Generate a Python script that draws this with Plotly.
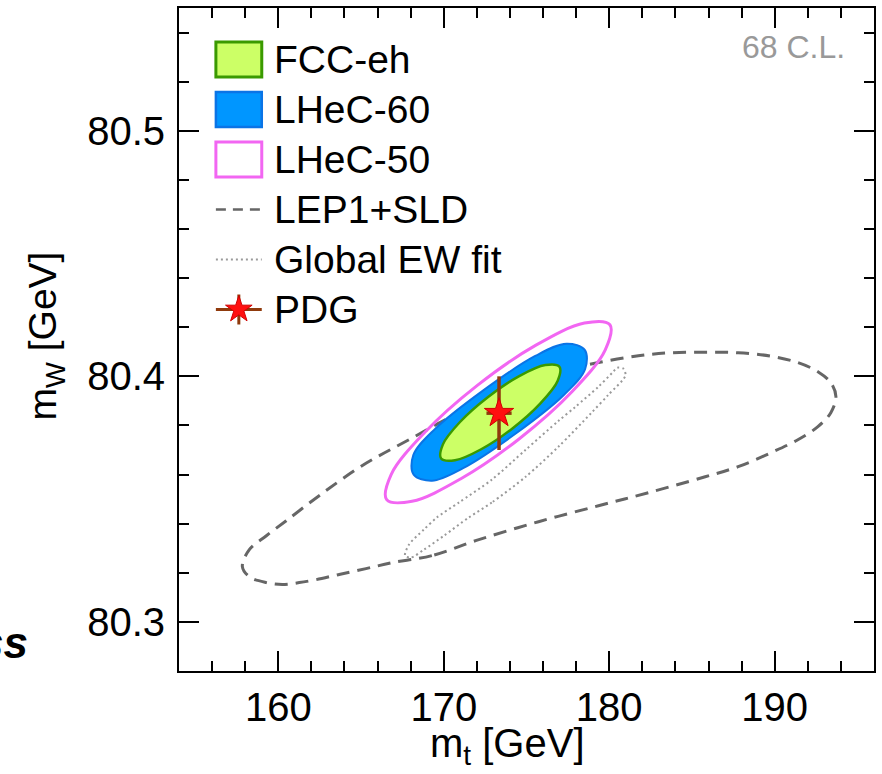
import plotly.graph_objects as go

# ---- contour data (m_t [GeV], m_W [GeV]) ----
fcc_mt = [174.15, 172.26, 170.68, 169.84, 169.95, 170.98, 172.68, 174.56, 176.14, 176.99, 176.88, 175.84]
fcc_mw = [80.3788, 80.3703, 80.3658, 80.3665, 80.3723, 80.3814, 80.3916, 80.4001, 80.4046, 80.4039, 80.3981, 80.3890]

lhec60_mt = [174.31, 171.17, 169.29, 168.18, 168.16, 169.46, 172.39, 175.53, 177.42, 178.52, 178.54, 177.24]
lhec60_mw = [80.3765, 80.3626, 80.3575, 80.3600, 80.3679, 80.3785, 80.3943, 80.4083, 80.4133, 80.4108, 80.4029, 80.3923]

lhec50_mt = [174.55, 171.01, 168.08, 166.55, 166.82, 168.83, 172.03, 175.57, 178.50, 180.04, 179.76, 177.76]
lhec50_mw = [80.3745, 80.3582, 80.3491, 80.3498, 80.3600, 80.3770, 80.3963, 80.4127, 80.4217, 80.4210, 80.4108, 80.3938]

lep_mt = [172.12, 169.28, 166.87, 165.30, 163.68, 162.29, 161.27, 160.24, 159.28, 158.25, 157.83,
          158.25, 159.28, 160.48, 162.47, 165.06, 167.90, 171.51, 174.53, 176.94, 179.35, 181.76,
          183.75, 185.80, 187.79, 189.78, 191.40, 192.61, 193.39, 193.70, 193.39, 192.61, 191.40,
          189.78, 187.79, 185.80, 182.36, 179.35, 175.73]
lep_mw = [80.3335, 80.3270, 80.3241, 80.3217, 80.3193, 80.3172, 80.3160, 80.3152, 80.3160, 80.3184, 80.3225,
          80.3294, 80.3351, 80.3412, 80.3514, 80.3636, 80.3742, 80.3872, 80.3954, 80.4019, 80.4056, 80.4084,
          80.4096, 80.4098, 80.4096, 80.4082, 80.4056, 80.4019, 80.3974, 80.3917, 80.3852, 80.3795, 80.3742,
          80.3689, 80.3632, 80.3591, 80.3526, 80.3473, 80.3408]

ew_mt = [174.95, 172.90, 171.51, 170.01, 168.80, 168.02, 167.66, 167.90, 168.80, 169.58, 170.91, 172.90,
         174.95, 176.94, 177.96, 179.35, 180.19, 180.49, 180.86, 180.98, 179.95, 178.93, 176.94]
ew_mw = [80.3591, 80.3486, 80.3425, 80.3351, 80.3294, 80.3262, 80.3270, 80.3315, 80.3376, 80.3425, 80.3486, 80.3579,
         80.3701, 80.3819, 80.3876, 80.3958, 80.4015, 80.4035, 80.4031, 80.4003, 80.3925, 80.3852, 80.3714]

# PDG world average
pdg_mt, pdg_mt_err = 173.34, 0.76
pdg_mw, pdg_mw_err = 80.385, 0.015

legend_labels = ["FCC-eh", "LHeC-60", "LHeC-50", "LEP1+SLD", "Global EW fit", "PDG"]
x_ticks = [160, 170, 180, 190]
y_ticks = [80.3, 80.4, 80.5]

# ---- styling ----
FONT = "Liberation Sans, Arial, Helvetica, sans-serif"
C_FCC_FILL, C_FCC_LINE = "#ccff66", "#3a9a00"
C_60_FILL, C_60_LINE = "#0096ff", "#0a74e6"
C_50_LINE = "#f266f2"
C_LEP = "#666666"
C_EW = "#9a9a9a"
C_PDG_BAR = "#8f3a0c"
C_PDG_STAR = "#ff1010"

W, H = 882, 774
ML, MR, MT, MB = 179, 6, 8, 103


def px_x(px):
    return (px - ML) / (W - ML - MR)


def px_y(py):
    return (H - MB - py) / (H - MT - MB)


def closed(v):
    return list(v) + [v[0]]


fig = go.Figure()

fig.add_trace(go.Scatter(
    x=closed(lep_mt), y=closed(lep_mw), mode="lines", name="LEP1+SLD",
    line=dict(color=C_LEP, width=3, dash="13px,8px", shape="spline", smoothing=1),
    hoverinfo="skip"))
fig.add_trace(go.Scatter(
    x=closed(ew_mt), y=closed(ew_mw), mode="lines", name="Global EW fit",
    line=dict(color=C_EW, width=2, dash="2px,3px", shape="spline", smoothing=0.8),
    hoverinfo="skip"))
fig.add_trace(go.Scatter(
    x=closed(lhec50_mt), y=closed(lhec50_mw), mode="lines", name="LHeC-50",
    line=dict(color=C_50_LINE, width=3, shape="spline", smoothing=1),
    hoverinfo="skip"))
fig.add_trace(go.Scatter(
    x=closed(lhec60_mt), y=closed(lhec60_mw), mode="lines", name="LHeC-60",
    fill="toself", fillcolor=C_60_FILL,
    line=dict(color=C_60_LINE, width=2, shape="spline", smoothing=1),
    hoverinfo="skip"))
fig.add_trace(go.Scatter(
    x=closed(fcc_mt), y=closed(fcc_mw), mode="lines", name="FCC-eh",
    fill="toself", fillcolor=C_FCC_FILL,
    line=dict(color=C_FCC_LINE, width=2.5, shape="spline", smoothing=1),
    hoverinfo="skip"))
fig.add_trace(go.Scatter(
    x=[pdg_mt], y=[pdg_mw], mode="markers", name="PDG",
    marker=dict(symbol="star", size=22, color=C_PDG_STAR, line=dict(color="#d00000", width=1)),
    error_x=dict(type="data", array=[pdg_mt_err], color=C_PDG_BAR, thickness=3.5, width=0),
    error_y=dict(type="data", array=[pdg_mw_err], color=C_PDG_BAR, thickness=3.5, width=0),
    hoverinfo="skip"))

# ---- hand-drawn legend ----
rows = [59.5, 109.5, 159.5, 209.5, 259.5, 309.5]
sym_x0, sym_x1, txt_x = 216, 262, 272
shapes = []
box_styles = [(C_FCC_FILL, C_FCC_LINE, 3), (C_60_FILL, C_60_LINE, 2.5), ("white", C_50_LINE, 3)]
for (fillc, linec, lw), ry in zip(box_styles, rows[:3]):
    shapes.append(dict(type="rect", xref="paper", yref="paper",
                       x0=px_x(sym_x0), x1=px_x(sym_x1), y0=px_y(ry + 17.5), y1=px_y(ry - 17.5),
                       fillcolor=fillc, line=dict(color=linec, width=lw)))
shapes.append(dict(type="line", xref="paper", yref="paper",
                   x0=px_x(sym_x0), x1=px_x(sym_x1), y0=px_y(rows[3]), y1=px_y(rows[3]),
                   line=dict(color=C_LEP, width=2.5, dash="10px,7px")))
shapes.append(dict(type="line", xref="paper", yref="paper",
                   x0=px_x(sym_x0), x1=px_x(sym_x1), y0=px_y(rows[4]), y1=px_y(rows[4]),
                   line=dict(color=C_EW, width=2, dash="2px,3px")))

# PDG legend symbol on an overlay axis spanning the plot area
fig.add_trace(go.Scatter(
    x=[px_x((sym_x0 + sym_x1) / 2)], y=[px_y(rows[5])], xaxis="x2", yaxis="y2",
    mode="markers", showlegend=False, hoverinfo="skip",
    marker=dict(symbol="star", size=20, color=C_PDG_STAR, line=dict(color="#d00000", width=1)),
    error_x=dict(type="data", array=[(sym_x1 - sym_x0) / 2 / (W - ML - MR)], color=C_PDG_BAR, thickness=3, width=0),
    error_y=dict(type="data", array=[15 / (H - MT - MB)], color=C_PDG_BAR, thickness=3, width=0)))

annotations = []
for lab, ry in zip(legend_labels, rows):
    annotations.append(dict(text=lab, xref="paper", yref="paper", x=px_x(txt_x), y=px_y(ry),
                            xanchor="left", yanchor="middle", showarrow=False,
                            font=dict(family=FONT, size=39, color="black")))

annotations.append(dict(text="68 C.L.", xref="paper", yref="paper", x=px_x(849), y=px_y(47),
                        xanchor="right", yanchor="middle", showarrow=False,
                        font=dict(family=FONT, size=32, color="#999999")))
annotations.append(dict(text="m<sub>t</sub> [GeV]", xref="paper", yref="paper", x=px_x(508), y=px_y(746),
                        xanchor="center", yanchor="middle", showarrow=False,
                        font=dict(family=FONT, size=40, color="black")))
annotations.append(dict(text="m<sub>W</sub> [GeV]", xref="paper", yref="paper", x=px_x(45), y=px_y(336),
                        xanchor="center", yanchor="middle", showarrow=False, textangle=-90,
                        font=dict(family=FONT, size=39, color="black")))
annotations.append(dict(text="<b><i>ss</i></b>", xref="paper", yref="paper", x=px_x(30), y=px_y(642),
                        xanchor="right", yanchor="middle", showarrow=False,
                        font=dict(family=FONT, size=44, color="black")))

axis_common = dict(
    ticks="inside", ticklen=20, tickwidth=2, tickcolor="black",
    showline=True, linewidth=2, linecolor="black", mirror="ticks",
    showgrid=False, zeroline=False,
    tickfont=dict(family=FONT, size=40, color="black"),
)

fig.update_layout(
    width=W, height=H,
    margin=dict(l=ML, r=MR, t=MT, b=MB),
    paper_bgcolor="white", plot_bgcolor="white",
    showlegend=False, hovermode=False,
    xaxis=dict(range=[154, 196], tickmode="array", tickvals=x_ticks,
               ticktext=[str(v) for v in x_ticks],
               minor=dict(dtick=2, tick0=154, ticks="inside", ticklen=10, tickwidth=1.5, tickcolor="black"),
               ticklabelstandoff=0, **axis_common),
    yaxis=dict(range=[80.28, 80.55], tickmode="array", tickvals=y_ticks,
               ticktext=[f"{v:.1f}" for v in y_ticks],
               minor=dict(dtick=0.02, tick0=80.28, ticks="inside", ticklen=10, tickwidth=1.5, tickcolor="black"),
               ticklabelstandoff=4, **axis_common),
    xaxis2=dict(overlaying="x", range=[0, 1], visible=False, fixedrange=True),
    yaxis2=dict(overlaying="y", range=[0, 1], visible=False, fixedrange=True),
    shapes=shapes,
    annotations=annotations,
)

fig.write_html("out.html")
